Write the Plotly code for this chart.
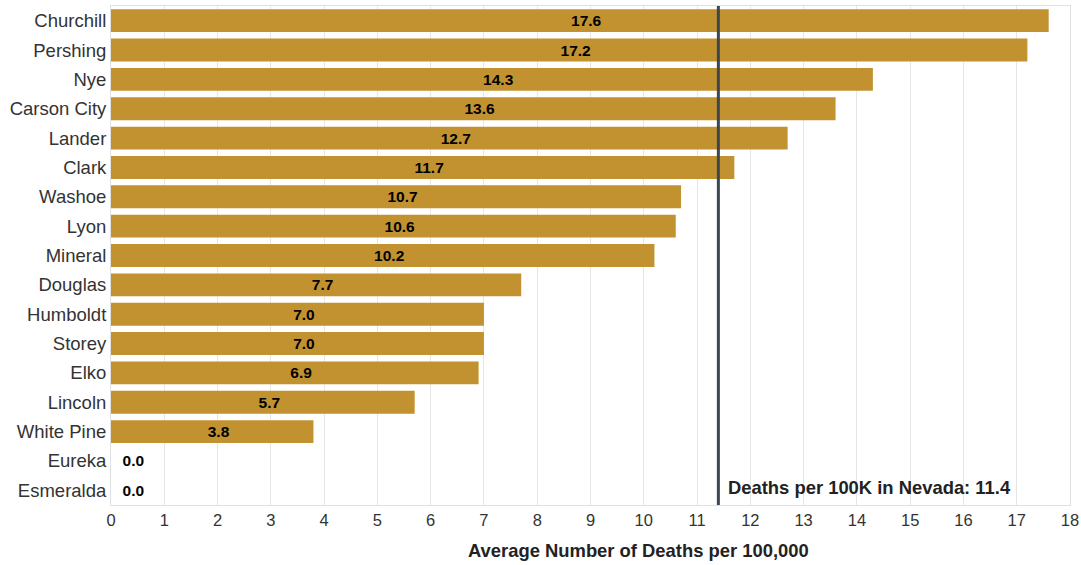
import plotly.graph_objects as go

counties = ["Churchill", "Pershing", "Nye", "Carson City", "Lander", "Clark", "Washoe",
            "Lyon", "Mineral", "Douglas", "Humboldt", "Storey", "Elko", "Lincoln",
            "White Pine", "Eureka", "Esmeralda"]
deaths = [17.6, 17.2, 14.3, 13.6, 12.7, 11.7, 10.7, 10.6, 10.2, 7.7, 7.0, 7.0, 6.9, 5.7, 3.8, 0.0, 0.0]
state_rate = 11.4
state_label = "Deaths per 100K in Nevada: 11.4"
x_title = "Average Number of Deaths per 100,000"

bar_color = "#C1922F"
font_family = "Liberation Sans, Arial, sans-serif"

positions = ["outside" if v == 0 else "inside" for v in deaths]
labels = [("\u00a0\u00a0" if v == 0 else "\u00a0\u00a0\u00a0") + f"{v:.1f}" for v in deaths]

fig = go.Figure(go.Bar(
    y=counties, x=deaths, orientation="h",
    marker=dict(color=bar_color, line=dict(width=0)),
    text=labels,
    textposition=positions,
    insidetextanchor="middle",
    textfont=dict(family=font_family, size=15.5, color="#000000", weight="bold"),
    outsidetextfont=dict(family=font_family, size=15.5, color="#000000", weight="bold"),
    constraintext="none",
    cliponaxis=False,
    hoverinfo="skip",
))

fig.add_shape(type="line", xref="x", yref="paper", x0=state_rate, x1=state_rate, y0=0, y1=1,
              line=dict(color="#3C4752", width=3))

fig.add_annotation(x=state_rate, y=0.036, xref="x", yref="paper", text=f"<b>{state_label}</b>",
                   showarrow=False, xanchor="left", yanchor="middle", xshift=8,
                   font=dict(family=font_family, size=18.4, color="#222222"))

fig.add_annotation(x=0.55, y=-0.092, xref="paper", yref="paper", text=f"<b>{x_title}</b>",
                   showarrow=False, xanchor="center", yanchor="middle",
                   font=dict(family=font_family, size=18.4, color="#222222"))

fig.update_layout(
    width=1081, height=565,
    margin=dict(l=111, r=11, t=6, b=60, autoexpand=False),
    paper_bgcolor="white", plot_bgcolor="white",
    bargap=0.22,
    showlegend=False,
    font=dict(family=font_family, color="#333333"),
    xaxis=dict(range=[0, 18], dtick=1, showgrid=True, gridcolor="#e6e6e6", gridwidth=1,
               zeroline=False, showline=True, linecolor="#e0e0e0", mirror=True,
               automargin=False,
               tickfont=dict(size=16.5, color="#333333"), ticks="", ticklen=0),
    yaxis=dict(autorange="reversed", showgrid=False, zeroline=False,
               showline=True, linecolor="#e0e0e0", mirror=True, automargin=False,
               ticklabelstandoff=0,
               tickfont=dict(size=18.5, color="#333333"), ticks=""),
)

fig.write_html("out.html", config={"displayModeBar": False},
               post_script="document.body.style.margin='0';document.body.style.overflow='hidden';")
